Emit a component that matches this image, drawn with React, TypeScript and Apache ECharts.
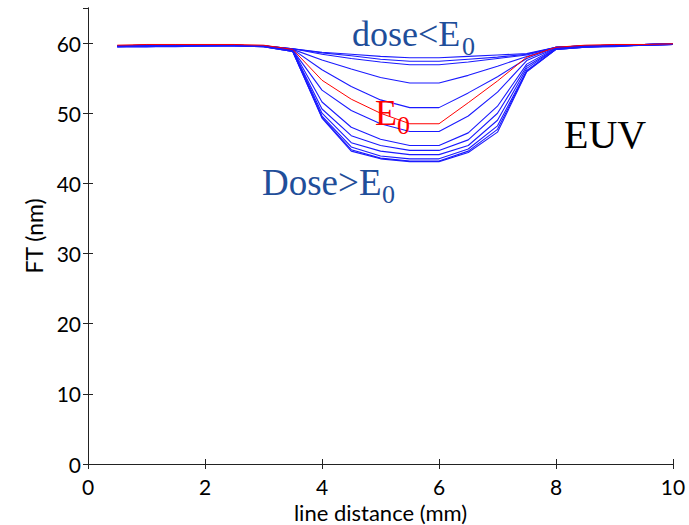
import React, { useEffect, useRef } from "react";
import * as echarts from "echarts";

// x positions (mm)
const xPositions = [0.5, 1, 1.5, 2, 2.5, 3, 3.5, 4, 4.5, 5, 5.5, 6, 6.5, 7, 7.5, 8, 8.5, 9, 9.5, 10];

// FT (nm) curves, dose < E0 (upper group)
const doseLow1 = [59.6, 59.7, 59.7, 59.7, 59.7, 59.6, 59.2, 58.7, 58.4, 58.1, 57.9, 57.9, 58.1, 58.3, 58.5, 59.4, 59.6, 59.7, 59.8, 59.9];
const doseLow2 = [59.6, 59.7, 59.7, 59.7, 59.7, 59.6, 59.2, 58.6, 58.2, 57.7, 57.4, 57.4, 57.7, 58.0, 58.4, 59.4, 59.6, 59.7, 59.8, 59.9];
const doseLow3 = [59.6, 59.7, 59.7, 59.7, 59.7, 59.6, 59.2, 58.4, 57.8, 57.3, 56.9, 56.9, 57.3, 57.8, 58.3, 59.4, 59.6, 59.7, 59.8, 59.9];
const doseLow4 = [59.6, 59.7, 59.7, 59.7, 59.7, 59.6, 59.1, 57.6, 56.3, 55.1, 54.3, 54.3, 55.4, 56.7, 58.1, 59.4, 59.6, 59.7, 59.8, 59.9];
const doseLow5 = [59.6, 59.7, 59.7, 59.7, 59.7, 59.6, 59.1, 56.2, 53.8, 51.9, 50.8, 50.8, 52.9, 55.2, 57.8, 59.4, 59.6, 59.7, 59.8, 59.9];
// dose = E0 (red)
const doseE0 = [59.7, 59.8, 59.8, 59.8, 59.8, 59.7, 59.1, 54.7, 52.0, 50.0, 48.5, 48.5, 51.5, 54.6, 58.0, 59.4, 59.7, 59.8, 59.8, 59.9];
// dose > E0 (lower group)
const doseHigh1 = [59.6, 59.7, 59.7, 59.7, 59.7, 59.6, 59.0, 53.3, 50.4, 48.5, 47.4, 47.4, 49.6, 53.0, 57.5, 59.3, 59.6, 59.7, 59.8, 59.9];
const doseHigh2 = [59.6, 59.7, 59.7, 59.7, 59.7, 59.6, 59.0, 51.6, 48.0, 46.3, 45.4, 45.4, 47.2, 51.0, 57.0, 59.3, 59.6, 59.7, 59.8, 59.9];
const doseHigh3 = [59.5, 59.6, 59.7, 59.7, 59.7, 59.6, 58.9, 50.6, 46.8, 45.4, 44.7, 44.7, 46.2, 50.0, 56.7, 59.2, 59.5, 59.6, 59.7, 59.8];
const doseHigh4 = [59.5, 59.6, 59.6, 59.6, 59.7, 59.6, 58.9, 50.0, 45.8, 44.6, 44.1, 44.1, 45.4, 49.0, 56.4, 59.2, 59.5, 59.6, 59.7, 59.8];
const doseHigh5 = [59.5, 59.5, 59.6, 59.6, 59.6, 59.5, 58.8, 49.6, 45.2, 43.9, 43.5, 43.5, 44.9, 48.2, 56.1, 59.1, 59.4, 59.6, 59.7, 59.8];
const doseHigh6 = [59.5, 59.5, 59.6, 59.6, 59.6, 59.5, 58.8, 49.4, 44.8, 43.6, 43.2, 43.2, 44.6, 47.7, 56.0, 59.1, 59.4, 59.6, 59.7, 59.8];
const doseHigh7 = [59.5, 59.5, 59.5, 59.6, 59.6, 59.5, 58.8, 49.3, 44.6, 43.5, 43.1, 43.1, 44.4, 47.3, 55.9, 59.1, 59.4, 59.5, 59.7, 59.8];

const blueCurves = [doseLow1, doseLow2, doseLow3, doseLow4, doseLow5, doseHigh1, doseHigh2, doseHigh3, doseHigh4, doseHigh5, doseHigh6, doseHigh7];

const xTicks = [0, 2, 4, 6, 8, 10];
const yTicks = [0, 10, 20, 30, 40, 50, 60];

const SANS = "Lato, 'DejaVu Sans', sans-serif";
const SERIF = "'Liberation Serif', 'DejaVu Serif', serif";
const LABEL_BLUE = "#1f4e9a";

export default function App() {
  const ref = useRef<HTMLDivElement>(null);
  useEffect(() => {
    if (!ref.current) return;
    const chart = echarts.init(ref.current, undefined, { renderer: "svg" });
    const toPairs = (ys: number[]) => ys.map((y, i) => [xPositions[i], y]);
    const axisLine = { show: true, lineStyle: { color: "#222", width: 1 } };
    const tick = { show: true, inside: true, length: 5, lineStyle: { color: "#222" } };
    const series: any[] = blueCurves.map((c, i) => ({
      type: "line",
      name: "b" + i,
      data: toPairs(c),
      showSymbol: false,
      lineStyle: { color: "#1a1aff", width: 1.1 },
      z: 2,
    }));
    series.push({
      type: "line",
      name: "E0",
      data: toPairs(doseE0),
      showSymbol: false,
      lineStyle: { color: "#ff0000", width: 1 },
      z: 3,
    });
    const text = (x: number, y: number, t: string, size: number, fill: string) => ({
      type: "text",
      x,
      y,
      z: 10,
      style: {
        text: t,
        fontFamily: SERIF,
        fontSize: size,
        fill,
        textAlign: "left",
        textVerticalAlign: "middle",
        verticalAlign: "middle",
      },
    });
    chart.setOption({
      animation: false,
      backgroundColor: "#ffffff",
      grid: { left: 88, right: 16, top: 8, bottom: 61, outerBoundsMode: "none" },
      xAxis: [
        {
          type: "value",
          min: xTicks[0],
          max: xTicks[xTicks.length - 1],
          interval: 2,
          position: "bottom",
          axisLine,
          axisTick: tick,
          splitLine: { show: false },
          axisLabel: { fontFamily: SANS, fontSize: 21, color: "#000", margin: 12 },
          name: "line distance (mm)",
          nameLocation: "middle",
          nameGap: 34,
          nameTextStyle: { fontFamily: SANS, fontSize: 22, color: "#000" },
        },
        {
          type: "value",
          min: xTicks[0],
          max: xTicks[xTicks.length - 1],
          interval: 2,
          position: "top",
          axisLine,
          axisTick: tick,
          splitLine: { show: false },
          axisLabel: { show: false },
        },
      ],
      yAxis: [
        {
          type: "value",
          min: yTicks[0],
          max: 65,
          interval: 10,
          position: "left",
          axisLine,
          axisTick: tick,
          splitLine: { show: false },
          axisLabel: { fontFamily: SANS, fontSize: 21, color: "#000", margin: 7, showMaxLabel: false },
          name: "FT (nm)",
          nameLocation: "middle",
          nameGap: 43,
          nameTextStyle: { fontFamily: SANS, fontSize: 23, color: "#000" },
        },
        {
          type: "value",
          min: yTicks[0],
          max: 65,
          interval: 10,
          position: "right",
          axisLine,
          axisTick: tick,
          splitLine: { show: false },
          axisLabel: { show: false },
        },
      ],
      series,
      graphic: [
        text(352, 34, "dose<E", 36, LABEL_BLUE),
        text(462, 46, "0", 26, LABEL_BLUE),
        text(375, 113, "E", 36, "#ff0000"),
        text(397, 125, "0", 26, "#ff0000"),
        text(262, 182, "Dose>E", 37, LABEL_BLUE),
        text(382, 194, "0", 26, LABEL_BLUE),
        text(564, 134, "EUV", 40, "#000000"),
      ],
    });
    return () => chart.dispose();
  }, []);
  return <div ref={ref} style={{ position: "absolute", left: 0, top: 0, width: 689, height: 525 }} />;
}
